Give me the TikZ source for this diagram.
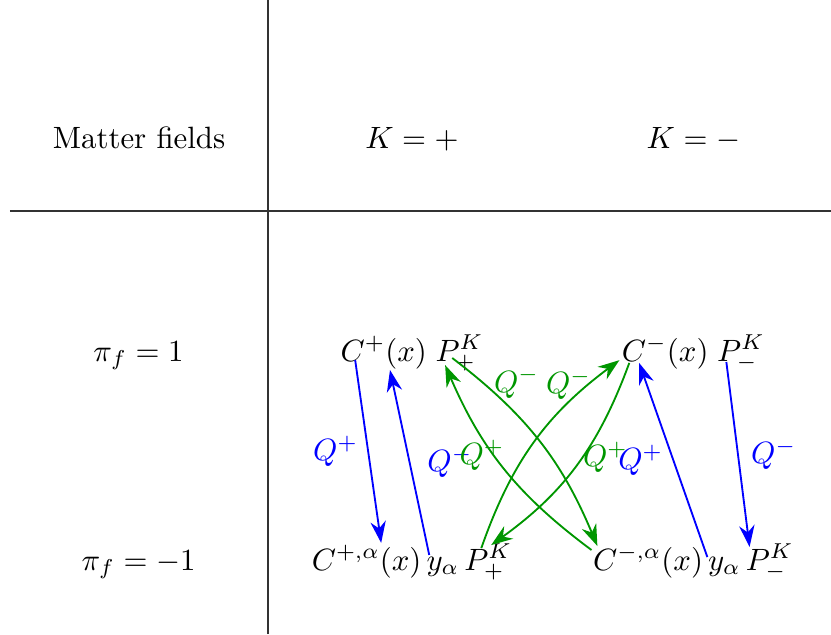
\documentclass[tikz,border=0pt]{standalone}
\usepackage{amsmath}
\usetikzlibrary{arrows.meta}
\definecolor{mapblue}{RGB}{0,0,255}
\definecolor{mapgreen}{RGB}{0,150,0}
\tikzset{
  tablerule/.style={black!80,line width=0.4pt},
  head/.style={anchor=base,inner sep=0pt},
  field/.style={anchor=base,inner sep=0pt},
  bluemap/.style={mapblue,line width=0.6pt,-{Stealth[length=7pt,width=5pt]}},
  greenmap/.style={bluemap,mapgreen},
  qlab/.style={inner sep=3pt},
  qtight/.style={inner sep=1pt},
}

\begin{document}
\begin{tikzpicture}[x=1cm,y=1cm]
  \path[use as bounding box] (0,0) rectangle (9.48,7.233);
  \draw[tablerule] (3.057,0) -- (3.057,7.233);
  \draw[tablerule] (0.114,4.826) -- (9.48,4.826);

  \node[head] (MF) at (1.586,5.544) {Matter fields};
  \node[head] (KP) at (4.70,5.544) {$K=+$};
  \node[head] (KM) at (7.91,5.544) {$K=-$};
  \node[head] (PI1) at (1.580,3.114) {$\pi_f=1$};
  \node[head] (PI2) at (1.580,0.730) {$\pi_f=-1$};

  \node[field] (cp) at (4.70,3.114) {$C^+(x)\;P^K_+$};
  \node[field] (cm) at (7.91,3.114) {$C^-(x)\;P^K_-$};
  \node[field] (cpa) at (4.70,0.730) {$C^{+,\alpha}(x)\,y_\alpha\,P^K_+$};
  \node[field] (cma) at (7.91,0.730) {$C^{-,\alpha}(x)\,y_\alpha\,P^K_-$};

  % blue maps
  \draw[bluemap] ([shift={(4.9pt,0.3pt)}]cp.base west)
    -- node[qlab,left] {$Q^+$} ([shift={(22.7pt,8.8pt)}]cpa.base west);
  \draw[bluemap] ([shift={(38.3pt,4.9pt)}]cpa.base west)
    -- node[qlab,right,xshift=2.5pt] {$Q^-$} ([shift={(16.2pt,-2.9pt)}]cp.base west);
  \draw[bluemap] ([shift={(37.3pt,4.2pt)}]cma.base west)
    -- node[qlab,left] {$Q^+$} ([shift={(5.8pt,-0.6pt)}]cm.base west);
  \draw[bluemap] ([shift={(34.1pt,-0.3pt)}]cm.base west)
    -- node[qlab,right,xshift=1pt] {$Q^-$} ([shift={(51pt,7.5pt)}]cma.base west);

  % green maps
  \draw[greenmap] ([shift={(36.4pt,1pt)}]cp.base west)
    to[bend left=15] node[qlab,pos=0.15,anchor=west,xshift=0.3pt] {$Q^-$} ([shift={(1.6pt,7.8pt)}]cma.base west);
  \draw[greenmap] ([shift={(55.2pt,7.1pt)}]cpa.base west)
    to[bend left=17] node[qlab,pos=0.85,anchor=east,xshift=4pt] {$Q^-$} ([shift={(-0.6pt,0.3pt)}]cm.base west);
  \draw[greenmap] ([shift={(-0.3pt,6.5pt)}]cma.base west)
    to[bend left=15] node[qtight,pos=0.55,anchor=east,shift={(3.5pt,1.5pt)}] {$Q^+$} ([shift={(34.1pt,-1.3pt)}]cp.base west);
  \draw[greenmap] ([shift={(2.6pt,-0.6pt)}]cm.base west)
    to[bend left=17] node[qtight,pos=0.45,anchor=west,xshift=-1pt] {$Q^+$} ([shift={(58.4pt,8.1pt)}]cpa.base west);
\end{tikzpicture}
\end{document}
